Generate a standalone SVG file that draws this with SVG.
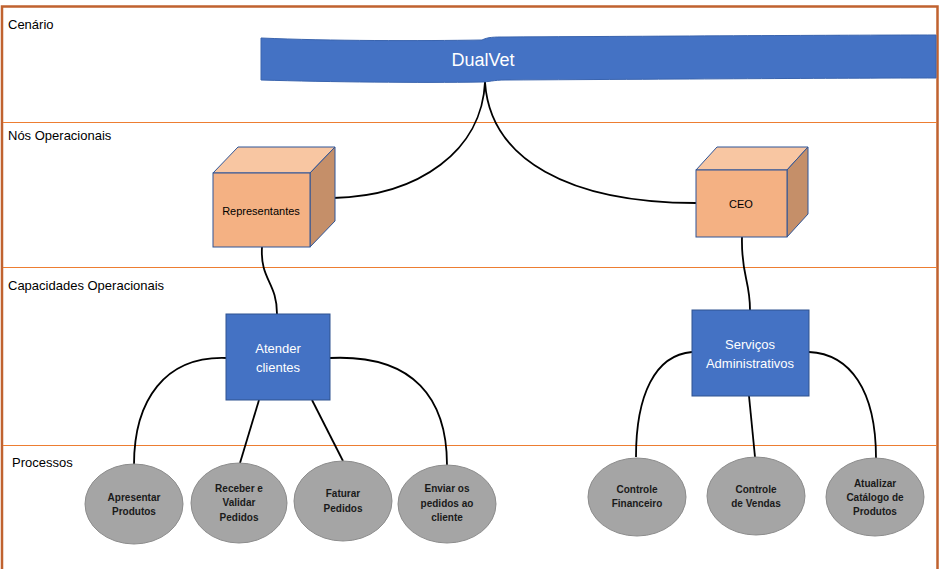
<svg xmlns="http://www.w3.org/2000/svg" width="940" height="569" viewBox="0 0 940 569">
<style>
.lane{font-family:"Liberation Sans",Arial,sans-serif;font-size:13px;fill:#000}
.sep{stroke:#ED7D31;stroke-width:1.2;fill:none}
.con{stroke:#000;stroke-width:1.8;fill:none}
.box{fill:#4472C4;stroke:#2F528F;stroke-width:1}
.wt{font-family:"Liberation Sans",Arial,sans-serif;font-size:13px;fill:#fff;text-anchor:middle}
.front{fill:#F4B183;stroke:#2F5597;stroke-width:1}
.top{fill:#F8C6A2;stroke:#2F5597;stroke-width:1}
.side{fill:#C58F69;stroke:#2F5597;stroke-width:1}
.ct{font-family:"Liberation Sans",Arial,sans-serif;font-size:11px;fill:#000;text-anchor:middle}
.ell{fill:#A5A5A5;stroke:#8C8C8C;stroke-width:1}
.et{font-family:"Liberation Sans",Arial,sans-serif;font-size:10px;font-weight:bold;fill:#1a1a1a;text-anchor:middle}
</style>
<rect x="0" y="0" width="940" height="569" fill="#fff"/>
<g id="frame">
<path d="M2,569 L2,6.5 L937.5,6.5 L937.5,569" fill="none" stroke="#C0622F" stroke-width="2.5"/>
<line class="sep" x1="3" y1="122.5" x2="937" y2="122.5"/>
<line class="sep" x1="3" y1="267.5" x2="937" y2="267.5"/>
<line class="sep" x1="3" y1="445.5" x2="937" y2="445.5"/>
<text class="lane" x="8" y="29">Cenário</text>
<text class="lane" x="8" y="140">Nós Operacionais</text>
<text class="lane" x="8" y="290">Capacidades Operacionais</text>
<text class="lane" x="12" y="467">Processos</text>
</g>
<g id="connectors">
<path class="con" d="M485,82 C482,150 420,196 333,198"/>
<path class="con" d="M485,82 C490,160 570,203 696,203"/>
<path class="con" d="M262,247 C260,280 277,282 277,314"/>
<path class="con" d="M742,237 C741,275 750,280 750,310"/>
<path class="con" d="M226,358 C165,356 134,400 134,465"/>
<line class="con" x1="259" y1="400" x2="240" y2="463"/>
<line class="con" x1="312" y1="400" x2="343" y2="461"/>
<path class="con" d="M330,358 C415,354 447,400 447,465"/>
<path class="con" d="M692,352 C655,355 636,395 636,457"/>
<line class="con" x1="749" y1="396" x2="755" y2="457"/>
<path class="con" d="M809,352 C850,354 876,390 876,458"/>
</g>
<g id="dualvet">
<path d="M261,38 C330,41 420,41 482,40 C488,37 494,37 505,37 C700,36 850,35 936,35 L936,78 C850,78 700,79 505,80 C494,80 488,82 482,82 C420,83 330,82 261,80 Z" fill="#4472C4" stroke="#3A64AE" stroke-width="1"/>
<text x="483" y="66" font-family="Liberation Sans,Arial,sans-serif" font-size="18" fill="#fff" text-anchor="middle">DualVet</text>
</g>
<g id="representantes">
<polygon class="top" points="213,173 238,147 335,147 310,173"/>
<polygon class="side" points="310,173 335,147 335,221 310,247"/>
<rect class="front" x="213" y="173" width="97" height="74"/>
<text class="ct" x="261" y="215">Representantes</text>
</g>
<g id="ceo">
<polygon class="top" points="696,170 717,147 808,147 787,170"/>
<polygon class="side" points="787,170 808,147 808,214 787,237"/>
<rect class="front" x="696" y="170" width="91" height="67"/>
<text class="ct" x="741" y="208" font-size="12">CEO</text>
</g>
<g id="atender">
<rect class="box" x="226" y="314" width="104" height="86"/>
<text class="wt" x="278" y="353">Atender</text>
<text class="wt" x="278" y="372">clientes</text>
</g>
<g id="servicos">
<rect class="box" x="692" y="310" width="117" height="86"/>
<text class="wt" x="750" y="349">Serviços</text>
<text class="wt" x="750" y="368">Administrativos</text>
</g>
<g id="apresentar">
<ellipse class="ell" cx="134" cy="504" rx="49" ry="40"/>
<text class="et" x="134" y="501">Apresentar</text>
<text class="et" x="134" y="515">Produtos</text>
</g>
<g id="receber">
<ellipse class="ell" cx="239" cy="503" rx="48" ry="40"/>
<text class="et" x="239" y="492">Receber e</text>
<text class="et" x="239" y="506">Validar</text>
<text class="et" x="239" y="521">Pedidos</text>
</g>
<g id="faturar">
<ellipse class="ell" cx="343" cy="501" rx="49" ry="40"/>
<text class="et" x="343" y="497">Faturar</text>
<text class="et" x="343" y="512">Pedidos</text>
</g>
<g id="enviar">
<ellipse class="ell" cx="447" cy="504" rx="49" ry="39"/>
<text class="et" x="447" y="492">Enviar os</text>
<text class="et" x="447" y="507">pedidos ao</text>
<text class="et" x="447" y="521">cliente</text>
</g>
<g id="financeiro">
<ellipse class="ell" cx="637" cy="497" rx="49" ry="39"/>
<text class="et" x="637" y="493">Controle</text>
<text class="et" x="637" y="507">Financeiro</text>
</g>
<g id="vendas">
<ellipse class="ell" cx="756" cy="496" rx="49" ry="39"/>
<text class="et" x="756" y="493">Controle</text>
<text class="et" x="756" y="507">de Vendas</text>
</g>
<g id="catalogo">
<ellipse class="ell" cx="875" cy="497" rx="49" ry="39"/>
<text class="et" x="875" y="487">Atualizar</text>
<text class="et" x="875" y="501">Catálogo de</text>
<text class="et" x="875" y="515">Produtos</text>
</g>
</svg>
